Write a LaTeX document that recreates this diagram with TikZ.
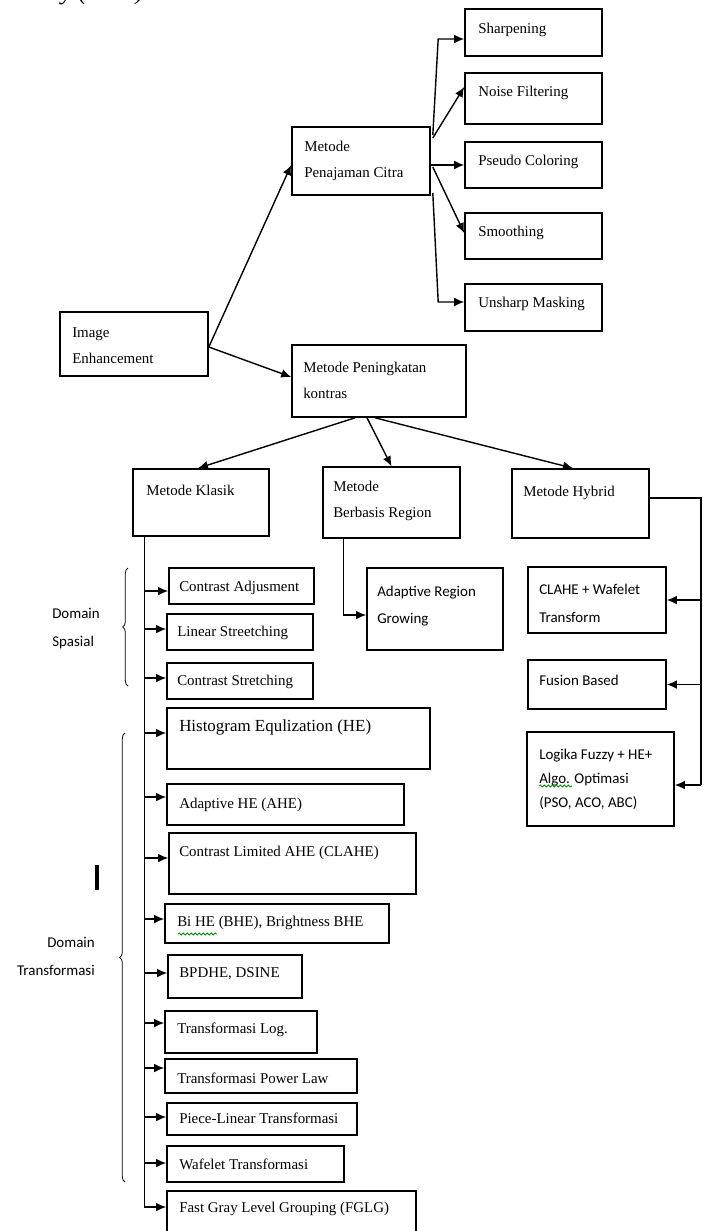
\documentclass[tikz,border=0pt]{standalone}
\usepackage{fontspec}
\setmainfont{Liberation Serif}
\newfontfamily\calfont{Carlito}
\usetikzlibrary{arrows.meta,decorations.pathreplacing,decorations.pathmorphing,calc}

% #1 extra text style, #2 name, #3 x1, #4 y1, #5 x2, #6 y2, #7 text x, #8 text y, #9 text
\newcommand\mkbox[9][]{%
  \pgfmathsetmacro\bw{(#5-#3)*0.75}%
  \pgfmathsetmacro\bh{(#6-#4)*0.75}%
  \node[boxst, minimum width=\bw pt, minimum height=\bh pt] (#2) at ({(#3+#5)/2},{(#4+#6)/2}) {};
  \node[txt,#1] (#2-t) at (#7,#8) {#9};
}

\begin{document}
\begin{tikzpicture}[x=0.75pt,y=-0.75pt,
  boxst/.style={draw, line width=1.2pt, inner sep=0pt},
  txt/.style={anchor=west, inner sep=0pt, align=left, font=\fontsize{11.2}{19.5}\selectfont},
  sans/.style={font=\calfont\fontsize{11.2}{20.5}\selectfont},
  big/.style={font=\fontsize{12.7}{15}\selectfont},
  conn/.style={draw, line width=1.05pt},
  arr/.style={conn, -{Latex[length=7.5pt,width=6.5pt]}},
  brc/.style={draw, line width=0.6pt, decorate, decoration={brace, amplitude=4pt}},
  squig/.style={draw=green!55!black, line width=0.6pt, decorate, decoration={snake, amplitude=0.8pt, segment length=3pt}},
]
\useasboundingbox (0,0) rectangle (709,1231);
\clip (0,0) rectangle (709,1231);

\node[anchor=base west, inner sep=0pt, font=\itshape\fontsize{18.75}{20}\selectfont] (hdr) at (0,0) {Society (IJCS).};

% top branch
\mkbox{sh}{465}{9}{602}{56}{478}{30}{Sharpening}
\mkbox{nf}{465}{73}{602}{124}{478}{93}{Noise Filtering}
\mkbox{ps}{465}{142}{602}{188}{478}{162}{Pseudo Coloring}
\mkbox{sm}{465}{213}{602}{259}{478}{233}{Smoothing}
\mkbox{us}{465}{284}{602}{331}{478}{304}{Unsharp Masking}
\mkbox{pc}{292}{127}{430}{195}{304}{161}{Metode\\Penajaman Citra}
\mkbox{ie}{60}{312}{208}{376}{72}{345.5}{Image\\Enhancement}
\mkbox{pk}{292}{345}{466}{417}{303}{380.5}{Metode Peningkatan\\kontras}

% level 3
\mkbox{kl}{133}{469}{269}{536}{146}{490}{Metode Klasik}
\mkbox{br}{323}{467}{460}{538}{333}{500.5}{Metode\\Berbasis Region}
\mkbox{hy}{512}{469}{649}{538}{523}{493}{Metode Hybrid}

\mkbox[sans]{ar}{367}{568}{503}{650}{377}{606}{Adaptive Region\\Growing}
\mkbox[sans]{cw}{528}{567}{666}{633}{539}{603.5}{CLAHE + Wafelet\\Transform}
\mkbox[sans]{fb}{528}{660}{666}{709}{539}{680}{Fusion Based}
\mkbox[font=\calfont\fontsize{11.2}{18}\selectfont]{lg}{527}{732}{674}{826}{539}{779}{Logika Fuzzy + HE+\\Algo. Optimasi\\(PSO, ACO, ABC)}

% klasik children
\mkbox{ca}{169}{568}{314}{604}{179}{588}{Contrast Adjusment}
\mkbox{ls}{167}{614}{313}{650}{177}{633}{Linear Streetching}
\mkbox{cs}{167}{663}{313}{699}{177}{682}{Contrast Stretching}
\mkbox[big]{he}{167}{708}{430}{769}{179}{727}{Histogram Equlization (HE)}
\mkbox{ahe}{167}{784}{404}{825}{179}{805}{Adaptive HE (AHE)}
\mkbox{cl}{169}{833}{416}{894}{179}{853}{Contrast Limited AHE (CLAHE)}
\mkbox{bhe}{165}{904}{389}{943}{177}{923}{Bi HE (BHE), Brightness BHE}
\mkbox{bp}{168}{955}{302}{998}{179}{974}{BPDHE, DSINE}
\mkbox{tl}{165}{1011}{317}{1053}{177}{1030}{Transformasi Log.}
\mkbox{tp}{165}{1059}{357}{1093}{177}{1078}{Transformasi Power Law}
\mkbox{pl}{167}{1103}{357}{1135}{179}{1118}{Piece-Linear Transformasi}
\mkbox{wt}{167}{1146}{344}{1182}{179}{1164}{Wafelet Transformasi}
\mkbox{fg}{167}{1191}{416}{1240}{179}{1209}{Fast Gray Level Grouping (FGLG)}

% connectors: image enhancement
\draw[arr] ($(ie.east)+(0,3)$) -- ($(pc.west)+(0,4)$);
\draw[arr] ($(ie.east)+(0,3)$) -- ($(pk.west)+(0,-4)$);

% penajaman branches
\draw[arr] ($(pc.east)+(2,-26)$) -- ($(sh.west)+(-26,6.5)$) -- ($(sh.west)+(0,6.5)$);
\draw[arr] ($(pc.east)+(2,-23)$) -- ($(nf.west)+(0,-11.5)$);
\draw[arr] (pc.east |- ps.west) -- (ps.west);
\draw[arr] ($(pc.east)+(2,6)$) -- ($(sm.west)+(0,-3)$);
\draw[arr] ($(pc.east)+(2,32)$) -- ($(us.west)+(-26,-5.5)$) -- ($(us.west)+(0,-5.5)$);

% peningkatan branches
\draw[arr] ($(pk.south)+(-24,0)$) -- ($(kl.north)+(-3,0)$);
\draw[arr] ($(pk.south)+(-12,0)$) -- (br.north);
\draw[arr] ($(pk.south)+(-4,0)$) -- ($(hy.north)+(-7.5,0)$);

% berbasis region
\draw[arr] ($(br.south west)+(21,0)$) |- ($(ar.west)+(0,6)$);

% hybrid
\coordinate (hv1) at ($(hy.east)+(51,-5.5)$);
\coordinate (hv2) at (hv1 |- 0,785);
\draw[conn] ($(hy.east)+(0,-5.5)$) -- (hv1) -- (hv2);
\draw[arr] (hv1 |- cw.east) -- (cw.east);
\draw[arr] (hv1 |- fb.east) -- (fb.east);
\draw[arr] (hv2) -- (hv2 -| lg.east);

% klasik trunk
\coordinate (kt) at ($(kl.south west)+(12,0)$);
\draw[arr] (kt) |- ($(fg.west)+(0,-8.5)$);
\foreach \n/\d in {ca/5, ls/-3, cs/-3, he/-5.5, ahe/-7.5, cl/-5.5, bhe/-4.5, bp/-3.5, tl/-9, tp/-8, pl/-2, wt/-1} {
  \coordinate (\n-in) at ($(\n.west)+(0,\d)$);
  \draw[arr] (kt |- \n-in) -- (\n-in);
}

% braces and domain labels
\draw[brc] (128,686) -- (128,568);
\draw[brc] (125,1182) -- (125,733);
\node[sans, anchor=west, align=left, inner sep=0pt, font=\calfont\fontsize{11.2}{21}\selectfont] (ds) at (52,629) {Domain\\Spasial};
\node[sans, anchor=east, align=right, inner sep=0pt, font=\calfont\fontsize{11.2}{20.5}\selectfont] (dt) at (95,956.5) {Domain\\Transformasi};

% cursor mark
\draw[line width=2.8pt] (97,865) -- (97,890);

% spell-check squiggles
\draw[squig] (539,786) -- (572,786);
\draw[squig] (178,934) -- (217,934);
\end{tikzpicture}
\end{document}
